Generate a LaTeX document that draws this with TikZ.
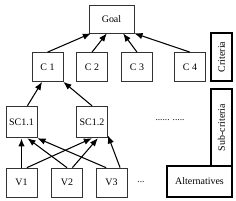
\documentclass[tikz,border=0pt]{standalone}
\usepackage{fontspec}
\setmainfont{Liberation Serif}
\usetikzlibrary{arrows.meta, calc}

\begin{document}
\begin{tikzpicture}[x=0.03cm, y=-0.03cm,
  box/.style={rectangle, draw=black!80, line width=0.6pt, minimum width=0.93cm,
    minimum height=0.87cm, inner sep=1pt, font=\fontsize{8.5}{10}\selectfont},
  goalbox/.style={box, minimum width=1.35cm, minimum height=0.84cm},
  subbox/.style={box, minimum height=0.95cm},
  levelbox/.style={rectangle, draw=black, line width=1.6pt, inner sep=1pt,
    font=\fontsize{8.5}{10}\selectfont},
  link/.style={-{Latex[length=7pt,width=5.5pt]}, line width=0.9pt, black},
  dots/.style={font=\fontsize{8}{10}\selectfont}
]
  \useasboundingbox (0,0) rectangle (236,200);

  \node[goalbox] (goal) at (111.5,19) {Goal};

  \node[box] (c1) at (47.5,67) {C 1};
  \node[box] (c2) at (92,67) {C 2};
  \node[box] (c3) at (137,67) {C 3};
  \node[box] (c4) at (190,67) {C 4};

  \node[subbox] (sc1) at (21.5,122) {SC1.1};
  \node[subbox] (sc2) at (92,122) {SC1.2};
  \node[dots] (d1) at (170,120) {...... .....};

  \node[box] (v1) at (21.5,182.5) {V1};
  \node[box] (v2) at (67,182.5) {V2};
  \node[box] (v3) at (111.5,182.5) {V3};
  \node[dots] (d2) at (141,182) {...};

  \node[levelbox, rotate=90, minimum width=1.44cm, minimum height=0.63cm]
    (crit) at (221.5,57) {Criteria};
  \node[levelbox, rotate=90, minimum width=2.31cm, minimum height=0.63cm]
    (subcrit) at (221.5,127.5) {Sub-criteria};
  \node[levelbox, minimum width=1.95cm, minimum height=0.93cm]
    (alt) at (199.5,181.5) {Alternatives};

  \draw[link] (c1.north) -- (goal.215);
  \draw[link] (c2.north) -- (goal.252);
  \draw[link] (c3.north) -- (goal.309);
  \draw[link] (c4.north) -- (goal.south east);

  \draw[link] (sc1.70) -- (c1.250);
  \draw[link] (sc2.north) -- (c1.south east);

  \draw[link, line width=1.4pt] (v1.north) -- (sc1.south);
  \draw[link] (v1.70) -- (sc2.south);
  \draw[link] (v2.north) -- (sc1.290);
  \draw[link] (v2.70) -- (sc2.290);
  \draw[link] (v3.110) -- (sc1.south east);
  \draw[link] (v3.60) -- (sc2.320);
\end{tikzpicture}
\end{document}
